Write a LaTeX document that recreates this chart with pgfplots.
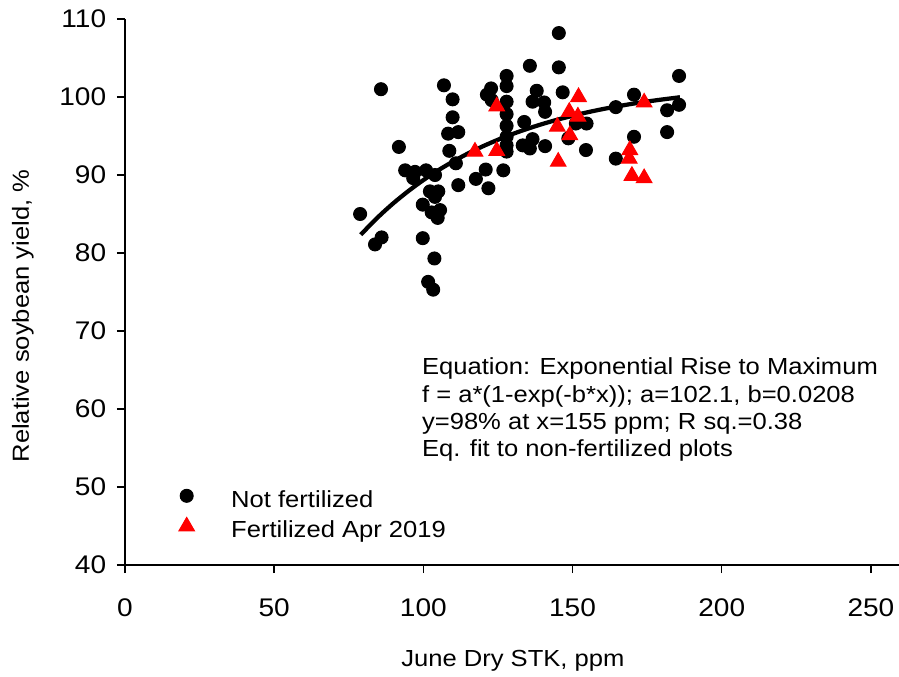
\documentclass[border=0pt]{standalone}
\usepackage{fontspec}
\setmainfont{Liberation Sans}[FakeStretch=1.1]
\usepackage{pgfplots}
\pgfplotsset{compat=1.18}
\begin{document}
\begin{tikzpicture}[font=\fontsize{9.3}{11}\selectfont]
\begin{axis}[
  scale only axis, width=310.3pt, height=218.4pt,
  xmin=0, xmax=260, ymin=40, ymax=110,
  axis x line=bottom, axis y line=left,
  axis line style={-, line width=0.6pt, black},
  xtick={0,50,...,250}, ytick={40,50,...,110},
  tick align=outside, major tick length=3.2pt,
  tick style={line width=0.6pt, black},
  /pgf/number format/assume math mode=true,
  ticklabel style={font=\fontsize{10.2}{12}\selectfont},
  xticklabel shift=6.6pt, yticklabel shift=0.8pt,
  xlabel={June Dry STK, ppm},
  ylabel={Relative soybean yield, \%},
  xlabel style={at={(axis description cs:0.5,0)}, anchor=center, yshift=-38.4pt},
  ylabel style={at={(axis description cs:-0.1315,0.456)}, anchor=center},
  legend style={draw=none, fill=none, at={(axis cs:17.9,46.3)}, anchor=west, inner sep=0pt,
    font=\fontsize{9.3}{11}\selectfont, row sep=0pt,
    /tikz/every odd column/.append style={column sep=12.7pt}},
  legend cell align=left,
  legend image code/.code={\draw[#1] plot coordinates {(0pt,1.9pt)};},
  clip=false,
]
\addplot[only marks, mark=*, mark size=2.6pt, mark options={fill=black, draw=black}] coordinates {
(85.8,101.0) (145.4,108.2) (135.7,104.0) (145.4,103.8) (106.9,101.5) (109.8,99.7)
(122.7,101.1) (127.9,102.7) (127.9,101.4) (121.3,100.3) (122.9,99.6) (138.0,100.8)
(136.6,99.4) (140.5,99.3) (140.8,98.1) (146.7,100.6) (127.9,99.4) (127.9,97.8)
(109.8,97.4) (108.3,95.3) (111.7,95.5) (127.9,96.3) (133.8,96.8) (108.7,93.1)
(110.9,91.5) (127.9,93.8) (127.9,93.0) (133.3,93.8) (135.7,93.4) (136.6,94.6)
(140.8,93.7) (154.5,93.2) (154.7,96.6) (164.5,98.7) (170.6,100.3) (170.6,94.9)
(164.5,92.1) (91.8,93.6) (93.9,90.6) (97.2,90.4) (100.9,90.6) (96.6,89.6)
(103.9,90.0) (120.9,90.7) (126.8,90.6) (117.6,89.5) (121.8,88.3) (111.7,88.7)
(102.2,87.9) (105.0,87.9) (103.9,87.2) (99.8,86.2) (102.8,85.2) (105.6,85.5)
(104.8,84.5) (78.8,85.0) (86.0,82.0) (83.8,81.1) (99.8,81.9) (103.7,79.3)
(101.6,76.3) (103.3,75.3) (185.7,102.7) (185.7,99.0) (181.7,98.3) (181.7,95.5)
(127.9,94.9) (151.1,96.6) (148.6,94.7)
};
\addlegendentry{Not fertilized}
\addplot[only marks, mark=triangle*, mark size=3.6pt, mark options={fill=red, draw=red}] coordinates {
(124.6,98.8) (117.3,93.0) (124.6,93.1) (145.2,91.7) (152.0,100.0) (148.9,98.1)
(151.8,97.5) (144.9,96.2) (149.1,95.1) (169.2,93.2) (169.0,92.1) (169.9,89.9)
(174.0,89.6) (174.0,99.3)
};
\addlegendentry{Fertilized Apr 2019}
\addplot[smooth, line width=1.7pt, black, no marks, forget plot] coordinates {
(79,82.35) (85,84.67) (90,86.40) (95,87.95) (100,89.35) (105,90.61) (110,91.74)
(115,92.77) (120,93.69) (125,94.52) (130,95.27) (135,95.94) (140,96.55) (145,97.10)
(150,97.59) (155,98.04) (160,98.44) (165,98.80) (170,99.13) (175,99.42) (180,99.68)
(186,99.97)
};
\node[anchor=base west, inner sep=0pt] at (axis cs:99.4,64.36) {Equation: Exponential Rise to Maximum};
\node[anchor=base west, inner sep=0pt] at (axis cs:99.4,60.81) {f = a*(1-exp(-b*x)); a=102.1, b=0.0208};
\node[anchor=base west, inner sep=0pt] at (axis cs:99.4,57.40) {y=98\% at x=155 ppm; R sq.=0.38};
\node[anchor=base west, inner sep=0pt] at (axis cs:99.4,53.94) {Eq. fit to non-fertilized plots};
\end{axis}
\pgfresetboundingbox
\useasboundingbox (-50pt,-44.8pt) rectangle (309.6pt,226pt);
\end{tikzpicture}
\end{document}
